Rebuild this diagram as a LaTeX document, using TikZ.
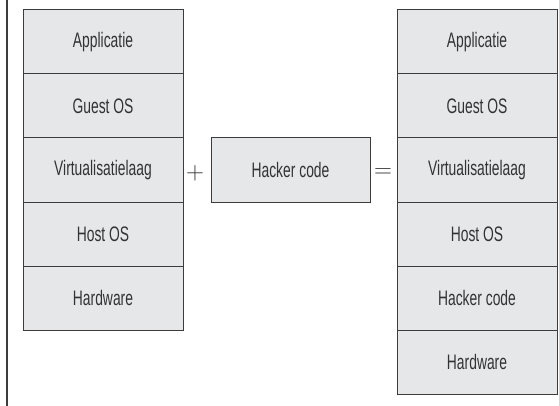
\documentclass[tikz,border=0pt]{standalone}
\usepackage{fontspec}
\setmainfont[FakeStretch=0.66]{Liberation Sans}
\definecolor{laagfill}{HTML}{E6E7E8}
\definecolor{laagrand}{HTML}{3C3C3C}
\definecolor{tekst}{HTML}{333333}
\tikzset{
  laag/.style={draw=laagrand, fill=laagfill, line width=1pt, minimum width=160pt,
    minimum height=64pt, inner sep=0pt, text=tekst, font=\fontsize{21}{21}\selectfont},
  teken/.style={text=tekst, inner sep=0pt, font=\fontsize{24}{24}\selectfont}
}
\begin{document}
\begin{tikzpicture}[x=1pt,y=-1pt]
\useasboundingbox (0,0) rectangle (559,406);
\draw[line width=1.2pt,laagrand] (7,0)--(7,406);
% left stack
\node[laag] at (103, 42)  (l1) {Applicatie};
\node[laag] at (103,106)  (l2) {Guest OS};
\node[laag] at (103,170)  (l3) {Virtualisatielaag};
\node[laag] at (103,234)  (l4) {Host OS};
\node[laag] at (103,298)  (l5) {Hardware};
% middle
\node[teken] at (195,173) (plus) {$+$};
\node[laag,minimum width=159pt] at (290.5,170) (hc) {Hacker code};
\node[teken] at (383,173) (is) {$=$};
% right stack
\node[laag] at (477, 42)  (r1) {Applicatie};
\node[laag] at (477,106)  (r2) {Guest OS};
\node[laag] at (477,170)  (r3) {Virtualisatielaag};
\node[laag] at (477,234)  (r4) {Host OS};
\node[laag] at (477,298)  (r5) {Hacker code};
\node[laag] at (477,362)  (r6) {Hardware};
\end{tikzpicture}
\end{document}
